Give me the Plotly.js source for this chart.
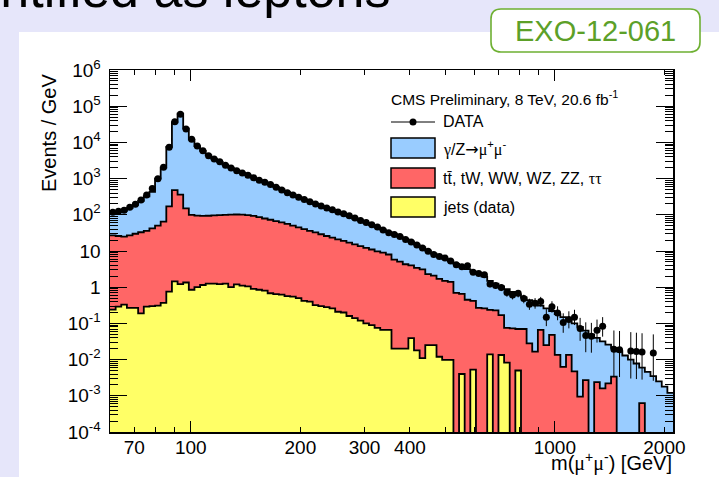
<!DOCTYPE html>
<html><head><meta charset="utf-8">
<script src="https://cdn.plot.ly/plotly-3.0.1.min.js"></script>
<style>html,body{margin:0;padding:0;background:#e6e6fa;overflow:hidden}</style>
</head><body><div id="chart" style="width:719px;height:477px"></div>
<script>
// ---- data ----
const binEdges = [60, 62.18, 64.43, 66.77, 69.19, 71.69, 74.29, 76.99, 79.78, 82.67,
 85.67, 88.77, 91.99, 95.32, 98.78, 102.36, 106.07, 109.91, 113.9, 118.02,
 122.31, 126.74, 131.33, 136.09, 141.02, 146.14, 151.43, 156.92, 162.61, 168.5,
 174.61, 180.94, 187.5, 194.29, 201.34, 208.63, 216.19, 224.03, 232.15, 240.56,
 249.28, 258.34, 267.7, 277.4, 287.46, 297.88, 308.67, 319.86, 331.45, 343.47,
 355.92, 368.82, 382.19, 396.04, 410.4, 425.28, 440.69, 456.66, 473.21, 490.37,
 508.14, 526.6, 545.7, 565.4, 585.9, 607.2, 629.2, 652.0, 675.6, 700.1,
 725.5, 751.8, 779.0, 807.3, 836.5, 866.8, 898.3, 930.8, 964.6, 999.5,
 1035.8, 1073.4, 1112.3, 1152.6, 1194.4, 1237.7, 1282.6, 1329.1, 1377.2, 1427.2,
 1478.9, 1532.5, 1588.1, 1645.6, 1705.3, 1767.1, 1831.2, 1897.6, 1966.4, 2037.7,
 2111.6];

const dataValues = [117, 125, 133, 162, 197, 258, 350, 530, 990, 2050,
 7300, 37000, 60000, 23500, 12200, 7950, 5900, 4300, 3500, 2900,
 2350, 1960, 1650, 1430, 1240, 1050, 900, 790, 690, 575,
 484, 405, 350, 304, 263, 229, 199, 175, 154, 137,
 120, 107, 94, 82, 70, 61, 53, 46, 38, 32,
 28.6, 25, 20.8, 17.7, 14.7, 12.1, 9.8, 8.0, 7.1, 6.4,
 5.3, 4.2, 3.7, 3.9, 2.6, 2.4, 2.2, 1.22, 1.11, 0.98,
 0.71, 0.61, 0.68, 0.49, 0.34, 0.36, 0.40, 0.148, 0.287, 0.193,
 0.106, 0.129, 0.149, 0.072, 0.046, 0.0445, 0.0645, 0.083, null, 0.0193,
 0.0187, null, 0.0174, 0.0168, 0.0162, null, 0.0151, null, null, null];

const dataErrUp = [0,0,0,0,0,0,0,0,0,0, 0,0,0,0,0,0,0,0,0,0,
 0,0,0,0,0,0,0,0,0,0, 0,0,0,0,0,0,0,0,0,0,
 0,0,0,0,0,0,0,0,0,0, 0,0,0,0,0,0,0,0,0,0,
 0.54, 0.47, 0.43, 0.44, 0.35, 0.33, 0.31, 0.23, 0.21, 0.2,
 0.165, 0.15, 0.155, 0.13, 0.141, 0.14, 0.14, 0.1, 0.122, 0.104,
 0.084, 0.087, 0.089, 0.07, 0.061, 0.059, 0.063, 0.066, null, 0.0445,
 0.043, null, 0.04, 0.0385, 0.0372, null, 0.0346, null, null, null];

const dataErrDown = [0,0,0,0,0,0,0,0,0,0, 0,0,0,0,0,0,0,0,0,0,
 0,0,0,0,0,0,0,0,0,0, 0,0,0,0,0,0,0,0,0,0,
 0,0,0,0,0,0,0,0,0,0, 0,0,0,0,0,0,0,0,0,0,
 0.54, 0.47, 0.43, 0.44, 0.35, 0.33, 0.31, 0.23, 0.21, 0.2,
 0.165, 0.15, 0.155, 0.13, 0.103, 0.105, 0.108, 0.064, 0.089, 0.071,
 0.051, 0.056, 0.059, 0.039, 0.03, 0.029, 0.035, 0.04, null, 0.016,
 0.0154, null, 0.0144, 0.0139, 0.0134, null, 0.0125, null, null, null];

// stacked histogram tops (events / GeV)
const stackTopDY = [112, 120, 128, 152, 187, 243, 325, 430, 1000, 2000,
 7500, 36000, 62000, 24000, 12000, 7900, 5800, 4400, 3500, 2900,
 2380, 1980, 1680, 1440, 1240, 1060, 910, 790, 690, 590,
 500, 420, 360, 310, 268, 232, 200, 174, 152, 133,
 117, 103, 90, 79, 69, 60, 52, 45, 39, 33.5,
 29, 25, 21.5, 18, 15, 12.5, 10.3, 8.5, 7.2, 6.1,
 5.2, 4.4, 3.7, 3.15, 2.7, 2.3, 1.95, 1.5, 1.25, 1.05,
 0.88, 0.74, 0.62, 0.52, 0.44, 0.37, 0.31, 0.26, 0.22, 0.18,
 0.15, 0.125, 0.10, 0.08, 0.063, 0.05, 0.04, 0.032, 0.026, 0.021,
 0.017, 0.013, 0.010, 0.0078, 0.006, 0.0046, 0.0035, 0.0025, 0.0018, 0.0012];

const stackTopTop = [27, 26, 25, 27, 30, 33, 36, 42, 50, 65,
 170, 480, 360, 150, 100, 95, 93, 94, 96, 98,
 100, 101, 102, 101, 98, 93, 86, 79, 73, 67,
 62, 56, 50, 45, 40, 36, 32.5, 29, 26, 23.5,
 21, 19, 17, 15.2, 13.6, 12.2, 11, 9.8, 9.0, 8.0,
 5.8, 5.1, 4.3, 4.0, 3.4, 3.1, 2.3, 2.1, 1.7, 1.5,
 1.4, 0.7, 0.65, 0.45, 0.42, 0.27, 0.26, 0.235, 0.23, 0.17,
 0.075, 0.073, 0.07, 0.07, 0.028, 0.0166, 0.066, 0.025, 0.048, 0.0135,
 0.0063, 0.0135, 0.0047, 0.00095, 0.0027, 0, 0.0024, 0.0016, 0.0022, 0.0034,
 0, 0, 0, 0, 0.00063, 0, 0, 0, 0, 0];

const stackTopJets = [0.24, 0.29, 0.33, 0.27, 0.27, 0.19, 0.29, 0.30, 0.31, 0.37,
 0.75, 1.45, 1.22, 1.35, 0.85, 1.0, 1.15, 1.25, 1.25, 1.22,
 1.25, 1.0, 1.2, 1.1, 1.05, 0.9, 0.85, 0.8, 0.68, 0.64,
 0.62, 0.57, 0.55, 0.5, 0.42, 0.4, 0.32, 0.3, 0.28, 0.26,
 0.21, 0.2, 0.16, 0.14, 0.12, 0.1, 0.09, 0.075, 0.066, 0.066,
 0.02, 0.02, 0.02, 0.039, 0.018, 0.011, 0.025, 0.025, 0.012, 0.0098,
 0.0098, 0, 0.004, 0, 0.0053, 0, 0, 0.014, 0, 0.0134,
 0.0083, 0, 0.005, 0, 0, 0, 0, 0, 0, 0,
 0, 0, 0, 0, 0, 0, 0, 0, 0, 0,
 0, 0, 0, 0, 0, 0, 0, 0, 0, 0];

const xTickVals = [70, 100, 200, 300, 400, 1000, 2000];
const xTickText = ['70', '100', '200', '300', '400', '1000', '2000'];
const xLongTicks = [100, 1000];
const xMinorTicks = [80, 90, 500, 600, 700, 800, 900];
const yTickVals = [1e-4, 1e-3, 1e-2, 1e-1, 1, 10, 1e2, 1e3, 1e4, 1e5, 1e6];
const yTickText = ['10<sup>-4</sup>', '10<sup>-3</sup>', '10<sup>-2</sup>', '10<sup>-1</sup>', '1', '10',
 '10<sup>2</sup>', '10<sup>3</sup>', '10<sup>4</sup>', '10<sup>5</sup>', '10<sup>6</sup>'];

// ---- layout helpers (pixel -> paper) ----
const W = 719, H = 477, ML = 110, MR = 46, MT = 70, MB = 45;
const PW = W - ML - MR, PH = H - MT - MB;
const px = p => (p - ML) / PW;
const py = p => (H - MB - p) / PH;
const FONT = 'Liberation Sans, Arial, Helvetica, sans-serif';
const SERIF = "font-family:'Liberation Serif', 'DejaVu Serif', serif";
const ARROW = "font-family:'DejaVu Sans', sans-serif";

const yMinor = [];
for (let e = -4; e < 6; e++) for (let m = 2; m <= 9; m++) yMinor.push(m * Math.pow(10, e));

const stepY = v => v.concat([v[v.length - 1]]);
const centers = dataValues.map((_, i) => (binEdges[i] + binEdges[i + 1]) / 2);

function stackTrace(vals, color) {
  return {type: 'scatter', mode: 'lines', x: binEdges, y: stepY(vals),
    line: {shape: 'hv', color: 'black', width: 1.8}, fill: 'tozeroy', fillcolor: color,
    showlegend: false, hoverinfo: 'skip'};
}

const traces = [
  stackTrace(stackTopDY, 'rgb(153,204,255)'),
  stackTrace(stackTopTop, 'rgb(255,102,102)'),
  stackTrace(stackTopJets, 'rgb(255,255,102)'),
  {type: 'scatter', mode: 'markers', x: centers, y: dataValues,
   marker: {color: 'black', size: 7},
   error_y: {type: 'data', symmetric: false, array: dataErrUp, arrayminus: dataErrDown,
             color: 'black', thickness: 1, width: 0},
   showlegend: false, hoverinfo: 'skip'},
  {type: 'scatter', mode: 'markers', x: [], y: [], xaxis: 'x2', yaxis: 'y', showlegend: false, hoverinfo: 'skip'}
];

function roundRect(x0, y0, x1, y1, r) {
  return `M${px(x0 + r)},${py(y0)} L${px(x1 - r)},${py(y0)} Q${px(x1)},${py(y0)} ${px(x1)},${py(y0 + r)} ` +
         `L${px(x1)},${py(y1 - r)} Q${px(x1)},${py(y1)} ${px(x1 - r)},${py(y1)} L${px(x0 + r)},${py(y1)} ` +
         `Q${px(x0)},${py(y1)} ${px(x0)},${py(y1 - r)} L${px(x0)},${py(y0 + r)} Q${px(x0)},${py(y0)} ${px(x0 + r)},${py(y0)} Z`;
}

const legendBoxes = [
  {y0: 138, y1: 158, color: 'rgb(153,204,255)'},
  {y0: 168, y1: 188, color: 'rgb(255,102,102)'},
  {y0: 197, y1: 217, color: 'rgb(255,255,102)'}
];

const shapes = [
  {type: 'rect', xref: 'paper', yref: 'paper', x0: px(19), x1: px(730), y0: py(490), y1: py(32),
   fillcolor: 'white', line: {width: 0}, layer: 'below'},
  {type: 'path', xref: 'paper', yref: 'paper', path: roundRect(491, 9, 700, 52, 10),
   fillcolor: 'white', line: {color: 'rgb(110,176,50)', width: 1.6}},
  {type: 'line', xref: 'paper', yref: 'paper', x0: px(391), x1: px(435), y0: py(122), y1: py(122),
   line: {color: 'black', width: 1}},
  {type: 'circle', xref: 'paper', yref: 'paper', x0: px(409.5), x1: px(416.5), y0: py(125.5), y1: py(118.5),
   fillcolor: 'black', line: {color: 'black', width: 0}}
].concat(legendBoxes.map(b => ({type: 'rect', xref: 'paper', yref: 'paper',
   x0: px(391), x1: px(435), y0: py(b.y1), y1: py(b.y0), fillcolor: b.color,
   line: {color: 'black', width: 1.5}})));

const ann = (text, x, y, size, opts) => Object.assign({text, xref: 'paper', yref: 'paper', x: px(x), y: py(y),
  showarrow: false, xanchor: 'left', yanchor: 'middle', font: {family: FONT, size, color: 'black'}}, opts || {});

const annotations = [
  ann('misidentified as leptons', 393, -11, 52, {xanchor: 'right'}),
  ann('EXO-12-061', 595.5, 31, 29, {xanchor: 'center', font: {family: FONT, size: 29, color: 'rgb(92,160,40)'}}),
  ann('CMS Preliminary, 8 TeV, 20.6 fb<sup>-1</sup>', 389, 98, 15.5),
  ann('DATA', 441, 122, 16),
  ann(`<span style="${SERIF}">γ</span>/Z<span style="${ARROW}">→</span><span style="${SERIF}">μ</span><sup>+</sup><span style="${SERIF}">μ</span><sup>-</sup>`, 441, 148, 16),
  ann(`tt\u0304, tW, WW, WZ, ZZ, <span style="${SERIF}">ττ</span>`, 441, 178, 16),
  ann('jets (data)', 441, 207, 16),
  ann('Events / GeV', 49, 133, 20, {xanchor: 'center', textangle: -90}),
  ann(`m(<span style="${SERIF}">μ</span><sup>+</sup><span style="${SERIF}">μ</span><sup>-</sup>) [GeV]`, 674, 477, 20, {xanchor: 'right', yanchor: 'bottom'})
];

const xRange = [Math.log10(binEdges[0]), Math.log10(binEdges[binEdges.length - 1])];

const layout = {
  width: W, height: H,
  margin: {l: ML, r: MR, t: MT, b: MB, pad: 0},
  paper_bgcolor: 'rgb(230,230,250)', plot_bgcolor: 'white',
  showlegend: false, hovermode: false,
  font: {family: FONT, color: 'black'},
  xaxis: {type: 'log', range: xRange, tickvals: xTickVals, ticktext: xTickText,
    ticks: 'inside', ticklen: 5, tickwidth: 1, tickcolor: 'black',
    showline: true, linecolor: 'black', linewidth: 1.5, mirror: 'ticks',
    showgrid: false, zeroline: false, ticklabelstandoff: -2,
    tickfont: {family: FONT, size: 19, color: 'black'},
    minor: {tickmode: 'array', tickvals: xMinorTicks, ticks: 'inside', ticklen: 5, tickwidth: 1, tickcolor: 'black', showgrid: false}},
  xaxis2: {type: 'log', range: xRange, overlaying: 'x', anchor: 'y', side: 'bottom',
    tickvals: xLongTicks, ticks: 'inside', ticklen: 11, tickwidth: 1, tickcolor: 'black',
    showticklabels: false, showline: false, showgrid: false, zeroline: false, mirror: 'ticks'},
  yaxis: {type: 'log', range: [-4, 6], tickvals: yTickVals, ticktext: yTickText,
    ticks: 'inside', ticklen: 17, tickwidth: 1, tickcolor: 'black',
    showline: true, linecolor: 'black', linewidth: 1.5, mirror: 'ticks',
    showgrid: false, zeroline: false, ticklabelstandoff: 4,
    tickfont: {family: FONT, size: 19, color: 'black'},
    minor: {tickmode: 'array', tickvals: yMinor, ticks: 'inside', ticklen: 8, tickwidth: 1, tickcolor: 'black', showgrid: false}},
  shapes, annotations
};

Plotly.newPlot('chart', traces, layout, {staticPlot: true, displayModeBar: false});
</script>
</body></html>
